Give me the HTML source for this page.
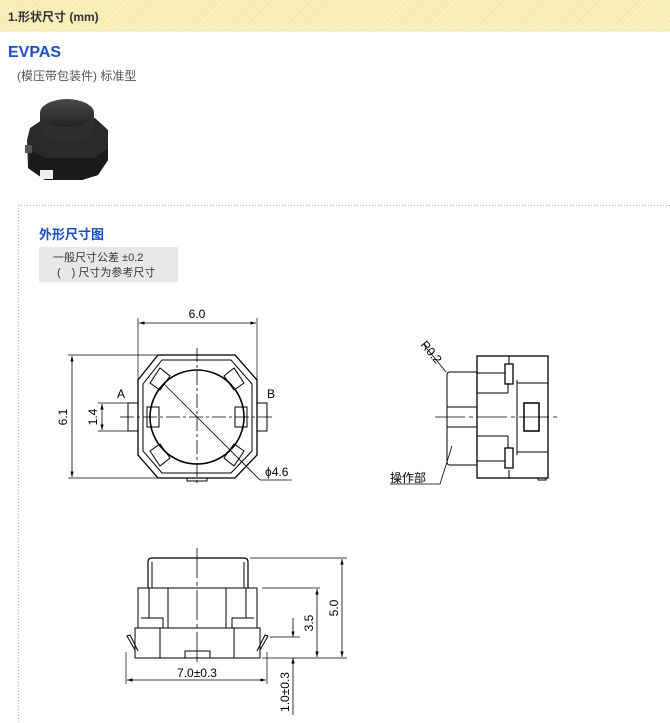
<!DOCTYPE html>
<html><head><meta charset="utf-8">
<style>
html,body{margin:0;padding:0;background:#fff;width:670px;height:723px;overflow:hidden}
svg{display:block}
text{font-family:"Liberation Sans","Noto Sans CJK SC",sans-serif}
</style></head><body>
<svg width="670" height="723" viewBox="0 0 670 723" xmlns="http://www.w3.org/2000/svg">
<defs>
<pattern id="hatch" width="4" height="4" patternUnits="userSpaceOnUse" patternTransform="rotate(45)">
<rect width="4" height="4" fill="#f8efbd"/><line x1="0" y1="0" x2="0" y2="4" stroke="#f3e6aa" stroke-width="1.5"/>
</pattern>
<marker id="ar" viewBox="0 0 10 10" refX="10" refY="5" markerWidth="7" markerHeight="7" orient="auto-start-reverse"><path d="M0,2 L10,5 L0,8 z" fill="#000"/></marker>
<linearGradient id="cap" x1="0" y1="0" x2="0" y2="1"><stop offset="0" stop-color="#4a4a4a"/><stop offset="1" stop-color="#222"/></linearGradient>
</defs>
<rect x="0" y="0" width="670" height="31" fill="url(#hatch)"/>
<line x1="0" y1="31" x2="670" y2="31" stroke="#eee3b0"/>
<text x="8" y="21" font-size="12" font-weight="bold" fill="#333">1.形状尺寸 (mm)</text>
<text x="8" y="57" font-size="16" font-weight="bold" fill="#1a4ec2">EVPAS</text>
<text x="17" y="80" font-size="12" fill="#555">(模压带包装件) 标准型</text>

<!-- photo -->
<polygon points="30,128 45,118 95,118 108,130 108,160 98,175 82,180 45,180 28,168 27,140" fill="#2a2a2a"/>
<polygon points="30,150 45,158 95,158 108,148 108,160 98,175 82,180 45,180 28,168" fill="#1a1a1a"/>
<rect x="40" y="170" width="13" height="9" fill="#eee"/>
<rect x="25" y="145" width="7" height="8" fill="#555"/>
<path d="M40,113 L40,128 A27,14 0 0 0 94,128 L94,113 Z" fill="#2e2e2e"/>
<ellipse cx="67" cy="113" rx="27" ry="14" fill="url(#cap)"/>

<!-- dotted box -->
<line x1="18.5" y1="205" x2="18.5" y2="723" stroke="#aaa" stroke-dasharray="1,2"/>
<line x1="18" y1="205.5" x2="670" y2="205.5" stroke="#aaa" stroke-dasharray="1,2"/>
<text x="39" y="239" font-size="13" font-weight="bold" fill="#1a4ec2">外形尺寸图</text>
<rect x="39" y="247" width="139" height="35" fill="#e8e8e8"/>
<text x="53" y="261" font-size="11" fill="#333">一般尺寸公差 ±0.2</text>
<text x="57" y="276" font-size="11" fill="#333">(　) 尺寸为参考尺寸</text>

<g stroke="#000" fill="none" stroke-width="1">
<!-- top view -->
<polygon points="158,355 235,355 257,380 257,455 235,478 158,478 138,455 138,380" stroke-width="1.3"/>
<polygon points="162,360 231,360 252,384 252,451 231,473 162,473 143,451 143,384"/>
<circle cx="197" cy="417" r="47" stroke-width="1.6"/>
<rect x="147" y="407" width="12" height="20"/><rect x="235" y="407" width="12" height="20"/>
<polygon points="150,383 160,368 170,376 160,390"/><polygon points="244,383 234,368 224,376 234,390"/>
<polygon points="150,451 160,466 170,458 160,444"/><polygon points="244,451 234,466 224,458 234,444"/>
<rect x="128" y="403" width="10" height="28"/><rect x="257" y="403" width="10" height="28"/>
<rect x="187" y="478" width="20" height="3"/>
<line x1="120" y1="417" x2="275" y2="417" stroke-dasharray="14,3,3,3" stroke-width="0.8"/>
<line x1="197" y1="348" x2="197" y2="484" stroke-dasharray="14,3,3,3" stroke-width="0.8"/>
<line x1="164" y1="384" x2="260" y2="480" stroke-width="0.8"/><line x1="260" y1="480" x2="292" y2="480" stroke-width="0.8"/>
<line x1="138" y1="318" x2="138" y2="380" stroke-width="0.7"/><line x1="257" y1="318" x2="257" y2="380" stroke-width="0.7"/>
<line x1="139" y1="323" x2="256" y2="323" stroke-width="0.8" marker-start="url(#ar)" marker-end="url(#ar)"/>
<line x1="68" y1="355" x2="158" y2="355" stroke-width="0.7"/><line x1="68" y1="478" x2="158" y2="478" stroke-width="0.7"/>
<line x1="72" y1="356" x2="72" y2="477" stroke-width="0.8" marker-start="url(#ar)" marker-end="url(#ar)"/>
<line x1="98" y1="403" x2="128" y2="403" stroke-width="0.7"/><line x1="98" y1="431" x2="128" y2="431" stroke-width="0.7"/>
<line x1="102" y1="404" x2="102" y2="430" stroke-width="0.8" marker-start="url(#ar)" marker-end="url(#ar)"/>

<!-- side view -->
<rect x="477" y="356" width="71" height="122" stroke-width="1.3"/>
<path d="M477,372 L450,372 Q447,372 447,375 L447,462 Q447,465 450,465 L477,465"/>
<line x1="447" y1="407" x2="477" y2="407"/><line x1="447" y1="427" x2="477" y2="427"/>
<line x1="477" y1="373" x2="505" y2="373"/><line x1="477" y1="393" x2="508" y2="393"/>
<line x1="477" y1="436" x2="508" y2="436"/><line x1="477" y1="461" x2="505" y2="461"/>
<line x1="508" y1="383" x2="508" y2="393"/><line x1="508" y1="436" x2="508" y2="448"/>
<line x1="509" y1="356" x2="509" y2="364"/><line x1="509" y1="470" x2="509" y2="478"/>
<line x1="517" y1="380" x2="517" y2="455"/>
<rect x="505" y="364" width="8" height="20" stroke-width="1.3"/><rect x="505" y="448" width="8" height="20" stroke-width="1.3"/>
<line x1="517" y1="383" x2="548" y2="383"/><line x1="517" y1="452" x2="548" y2="452"/>
<rect x="524" y="403" width="15" height="28" stroke-width="1.5"/>
<line x1="435" y1="417" x2="560" y2="417" stroke-dasharray="30,4,4,4" stroke-width="0.8"/>
<line x1="424" y1="345" x2="446" y2="372" stroke-width="0.8"/>
<line x1="390" y1="484" x2="440" y2="484" stroke-width="0.8"/><line x1="440" y1="484" x2="452" y2="446" stroke-width="0.8"/>
<rect x="538" y="478" width="8" height="2"/>

<!-- front view -->
<path d="M148,588 L148,562 Q148,558 152,558 L244,558 Q248,558 248,562 L248,588" stroke-width="1.2"/>
<line x1="152" y1="562" x2="152" y2="588"/><line x1="244" y1="562" x2="244" y2="588"/>
<rect x="138" y="588" width="119" height="40"/>
<line x1="149" y1="588" x2="149" y2="618"/><line x1="168" y1="588" x2="168" y2="628"/>
<line x1="226" y1="588" x2="226" y2="628"/><line x1="246" y1="588" x2="246" y2="618"/>
<path d="M141,618 L163,618 L163,628"/><path d="M254,618 L232,618 L232,628"/>
<rect x="135" y="628" width="125" height="30"/>
<line x1="160" y1="628" x2="160" y2="658"/><line x1="234" y1="628" x2="234" y2="658"/>
<rect x="185" y="651" width="25" height="7"/>
<path d="M135,650 L127,636 L130,635 L138,651"/><path d="M260,650 L268,636 L265,635 L257,651"/>
<line x1="197" y1="548" x2="197" y2="662" stroke-dasharray="30,4,4,4" stroke-width="0.8"/>
<line x1="250" y1="558" x2="347" y2="558" stroke-width="0.7"/>
<line x1="262" y1="588" x2="320" y2="588" stroke-width="0.7"/>
<line x1="262" y1="658" x2="347" y2="658" stroke-width="0.7"/>
<line x1="270" y1="637" x2="300" y2="637" stroke-width="0.7"/>
<line x1="342" y1="559" x2="342" y2="657" stroke-width="0.8" marker-start="url(#ar)" marker-end="url(#ar)"/>
<line x1="317" y1="589" x2="317" y2="657" stroke-width="0.8" marker-start="url(#ar)" marker-end="url(#ar)"/>
<line x1="293" y1="618" x2="293" y2="637" stroke-width="0.8" marker-end="url(#ar)"/>
<line x1="293" y1="715" x2="293" y2="658" stroke-width="0.8" marker-end="url(#ar)"/>
<line x1="126" y1="652" x2="126" y2="684" stroke-width="0.7"/><line x1="267" y1="652" x2="267" y2="684" stroke-width="0.7"/>
<line x1="127" y1="680" x2="266" y2="680" stroke-width="0.8" marker-start="url(#ar)" marker-end="url(#ar)"/>
</g>
<g font-size="12" fill="#000">
<text x="197" y="318" text-anchor="middle">6.0</text>
<text x="67" y="417" text-anchor="middle" transform="rotate(-90 67 417)">6.1</text>
<text x="97" y="417" text-anchor="middle" transform="rotate(-90 97 417)">1.4</text>
<text x="117" y="398">A</text><text x="267" y="398">B</text>
<text x="265" y="476">ϕ4.6</text>
<text x="420" y="345" transform="rotate(50 420 345)">R0.2</text>
<text x="390" y="482" font-size="12">操作部</text>
<text x="197" y="677" text-anchor="middle">7.0±0.3</text>
<text x="338" y="608" text-anchor="middle" transform="rotate(-90 338 608)">5.0</text>
<text x="313" y="623" text-anchor="middle" transform="rotate(-90 313 623)">3.5</text>
<text x="289" y="692" text-anchor="middle" transform="rotate(-90 289 692)">1.0±0.3</text>
</g>
</svg>
</body></html>
